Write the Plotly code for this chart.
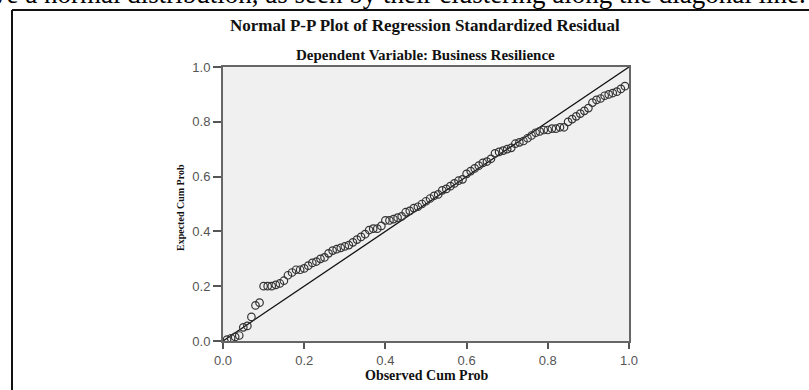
import plotly.graph_objects as go

# Observed cumulative probability (x) and expected cumulative probability (y)
observed_cum_prob = [
    0.01, 0.02, 0.03, 0.04, 0.05, 0.06, 0.07, 0.08, 0.09, 0.10,
    0.11, 0.12, 0.13, 0.14, 0.15, 0.16, 0.17, 0.18, 0.19, 0.20,
    0.21, 0.22, 0.23, 0.24, 0.25, 0.26, 0.27, 0.28, 0.29, 0.30,
    0.31, 0.32, 0.33, 0.34, 0.35, 0.36, 0.37, 0.38, 0.39, 0.40,
    0.41, 0.42, 0.43, 0.44, 0.45, 0.46, 0.47, 0.48, 0.49, 0.50,
    0.51, 0.52, 0.53, 0.54, 0.55, 0.56, 0.57, 0.58, 0.59, 0.60,
    0.61, 0.62, 0.63, 0.64, 0.65, 0.66, 0.67, 0.68, 0.69, 0.70,
    0.71, 0.72, 0.73, 0.74, 0.75, 0.76, 0.77, 0.78, 0.79, 0.80,
    0.81, 0.82, 0.83, 0.84, 0.85, 0.86, 0.87, 0.88, 0.89, 0.90,
    0.91, 0.92, 0.93, 0.94, 0.95, 0.96, 0.97, 0.98, 0.99,
]
expected_cum_prob = [
    0.005, 0.010, 0.015, 0.020, 0.050, 0.055, 0.088, 0.130, 0.140, 0.200,
    0.200, 0.200, 0.205, 0.210, 0.220, 0.240, 0.250, 0.260, 0.260, 0.265,
    0.275, 0.285, 0.290, 0.300, 0.305, 0.320, 0.330, 0.335, 0.340, 0.345,
    0.350, 0.360, 0.370, 0.380, 0.390, 0.405, 0.410, 0.410, 0.420, 0.440,
    0.440, 0.445, 0.450, 0.455, 0.470, 0.475, 0.485, 0.490, 0.500, 0.510,
    0.520, 0.530, 0.535, 0.550, 0.555, 0.565, 0.575, 0.585, 0.590, 0.610,
    0.620, 0.630, 0.640, 0.650, 0.655, 0.665, 0.685, 0.690, 0.695, 0.700,
    0.705, 0.720, 0.725, 0.730, 0.740, 0.750, 0.760, 0.765, 0.770, 0.770,
    0.775, 0.775, 0.780, 0.780, 0.800, 0.810, 0.820, 0.830, 0.840, 0.850,
    0.870, 0.880, 0.885, 0.895, 0.900, 0.905, 0.910, 0.920, 0.930,
]
diagonal = [0.0, 1.0]
tick_values = [0.0, 0.2, 0.4, 0.6, 0.8, 1.0]
tick_labels = ["0.0", "0.2", "0.4", "0.6", "0.8", "1.0"]

title_main = "Normal P-P Plot of Regression Standardized Residual"
title_sub = "Dependent Variable: Business Resilience"
x_title = "Observed Cum Prob"
y_title = "Expected Cum Prob"
doc_text = "ve a normal distribution, as seen by their clustering along the diagonal line."

W, H = 809, 390
L, R, T, B = 223, 180, 67, 49
PW, PH = W - L - R, H - T - B

def px(x):
    return (x - L) / PW

def py(y):
    return (H - B - y) / PH

fig = go.Figure()
fig.add_trace(go.Scatter(
    x=diagonal, y=diagonal, mode="lines",
    line=dict(color="#111111", width=1.3), hoverinfo="skip", showlegend=False,
))
fig.add_trace(go.Scatter(
    x=observed_cum_prob, y=expected_cum_prob, mode="markers",
    marker=dict(symbol="circle-open", size=7.5, color="#333333", line=dict(width=1.2)),
    showlegend=False,
))

axis_common = dict(
    range=[0, 1], tickvals=tick_values, ticktext=tick_labels,
    showgrid=False, zeroline=False, showline=True, mirror=True,
    linecolor="#666666", linewidth=2, ticks="outside", tickcolor="#555555",
    tickwidth=1.5, tickfont=dict(family="Liberation Sans", size=13, color="#555555"),
)

fig.update_layout(
    width=W, height=H,
    margin=dict(l=L, r=R, t=T, b=B, pad=0),
    paper_bgcolor="white", plot_bgcolor="#f0f0f0",
    xaxis=dict(axis_common, ticklen=6),
    yaxis=dict(axis_common, ticklen=8),
    shapes=[
        dict(type="line", xref="paper", yref="paper", x0=px(12), x1=px(12), y0=py(10), y1=py(395),
             line=dict(color="#111111", width=2)),
        dict(type="line", xref="paper", yref="paper", x0=px(12), x1=px(812), y0=py(10), y1=py(10),
             line=dict(color="#111111", width=2)),
    ],
    annotations=[
        dict(text=doc_text, xref="paper", yref="paper", x=px(808), y=py(-6), xanchor="right",
             yanchor="middle", showarrow=False,
             font=dict(family="Liberation Serif", size=27, color="#000000")),
        dict(text="<b>" + title_main + "</b>", xref="paper", yref="paper", x=px(425), y=py(25),
             xanchor="center", yanchor="middle", showarrow=False,
             font=dict(family="Liberation Serif", size=17, color="#111111")),
        dict(text="<b>" + title_sub + "</b>", xref="paper", yref="paper", x=px(425), y=py(55),
             xanchor="center", yanchor="middle", showarrow=False,
             font=dict(family="Liberation Serif", size=15, color="#111111")),
        dict(text="<b>" + x_title + "</b>", xref="paper", yref="paper", x=px(427), y=py(375),
             xanchor="center", yanchor="middle", showarrow=False,
             font=dict(family="Liberation Serif", size=14, color="#111111")),
        dict(text="<b>" + y_title + "</b>", xref="paper", yref="paper", x=px(180), y=py(208),
             xanchor="center", yanchor="middle", showarrow=False, textangle=-90,
             font=dict(family="Liberation Serif", size=10, color="#111111")),
    ],
)

fig.write_html("out.html", config={"displayModeBar": False},
               post_script="document.body.style.margin='0';")
